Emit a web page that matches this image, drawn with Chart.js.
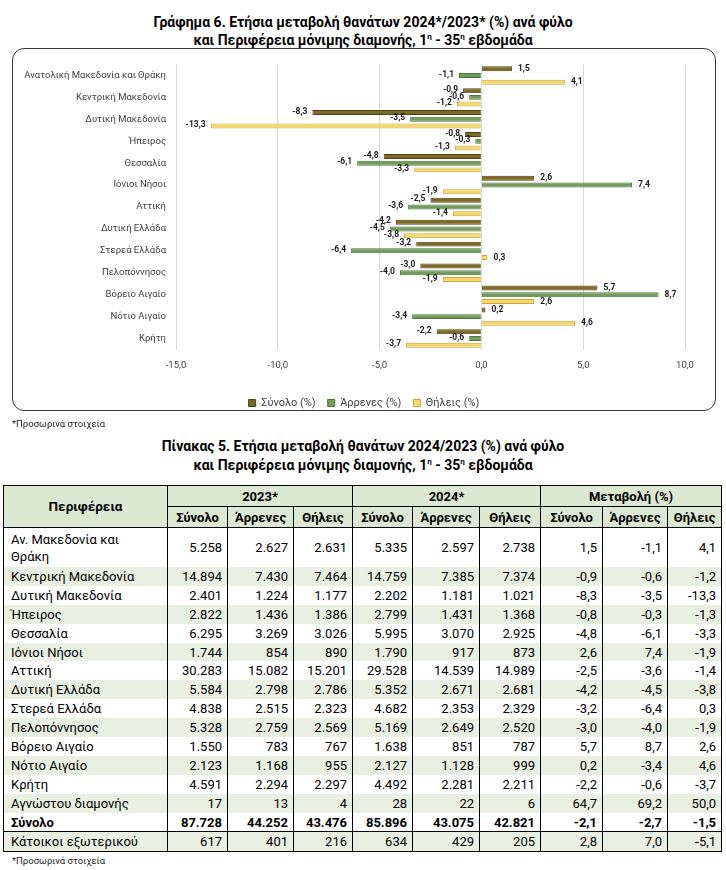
<!DOCTYPE html>
<html lang="el">
<head>
<meta charset="utf-8">
<title>Γράφημα 6 - Πίνακας 5</title>
<script src="https://cdn.jsdelivr.net/npm/chart.js@4.4.1/dist/chart.umd.min.js"></script>
<style>
    body { margin: 0; width: 726px; height: 870px; position: relative; background: #fff; font-family: Roboto, "Noto Sans", sans-serif; color: #000; overflow: hidden; }
    .title { position: absolute; left: 0; width: 726px; text-align: center; font-weight: bold; font-size: 14px; line-height: 18px; }
    .title sup { font-size: 8px; line-height: 0; }
    .chart-box { position: absolute; left: 12px; top: 48px; width: 702px; height: 361px; border: 1px solid #3a3a3a; border-radius: 12px; }
    #deathsChart { position: absolute; left: 12px; top: 48px; }
    .note { position: absolute; left: 12px; font-size: 9.5px; color: #222; }
    table { position: absolute; left: 3px; top: 485px; width: 718px; border-collapse: collapse; table-layout: fixed; font-size: 13px; border: 1.5px solid #000; }
    th, td { border-left: 1px solid #000; border-right: 1px solid #000; padding: 0 5px; line-height: 17px; }
    th { background: #dce8d2; font-weight: bold; text-align: center; border-top: 1px solid #000; border-bottom: 1px solid #000; height: 20px; }
    td { text-align: right; height: 18.9px; }
    td:first-child { text-align: left; padding-left: 7px; }
    tr.band td { background: #e9f0e1; }
    tr.total td { font-weight: bold; }
    tr.abroad td { border-top: 1.5px solid #000; height: 19px; }
</style>
</head>
<body>

<div class="title" style="top:13px">Γράφημα 6. Ετήσια μεταβολή θανάτων 2024*/2023* (%) ανά φύλο<br>και Περιφέρεια μόνιμης διαμονής, 1<sup>η</sup> - 35<sup>η</sup> εβδομάδα</div>
<div class="chart-box"></div>
<canvas id="deathsChart" width="704" height="380"></canvas>
<div class="note" style="top:418px">*Προσωρινά στοιχεία</div>

<div class="title" style="top:437px;line-height:19px">Πίνακας 5. Ετήσια μεταβολή θανάτων 2024/2023 (%) ανά φύλο<br>και Περιφέρεια μόνιμης διαμονής, 1<sup>η</sup> - 35<sup>η</sup> εβδομάδα</div>
<table id="deathsTable"></table>
<div class="note" style="top:855px">*Προσωρινά στοιχεία</div>

<script>
// Γράφημα 6
const regions = [
    'Ανατολική Μακεδονία και Θράκη', 'Κεντρική Μακεδονία', 'Δυτική Μακεδονία', 'Ήπειρος',
    'Θεσσαλία', 'Ιόνιοι Νήσοι', 'Αττική', 'Δυτική Ελλάδα', 'Στερεά Ελλάδα',
    'Πελοπόννησος', 'Βόρειο Αιγαίο', 'Νότιο Αιγαίο', 'Κρήτη',
];
const totalChange  = [1.5, -0.9, -8.3, -0.8, -4.8, 2.6, -2.5, -4.2, -3.2, -3.0, 5.7, 0.2, -2.2];
const maleChange   = [-1.1, -0.6, -3.5, -0.3, -6.1, 7.4, -3.6, -4.5, -6.4, -4.0, 8.7, -3.4, -0.6];
const femaleChange = [4.1, -1.2, -13.3, -1.3, -3.3, -1.9, -1.4, -3.8, 0.3, -1.9, 2.6, 4.6, -3.7];
const axisTicks = [-15, -10, -5, 0, 5, 10];

// Πίνακας 5
const tableRegions = [
    'Αν. Μακεδονία και Θράκη', 'Κεντρική Μακεδονία', 'Δυτική Μακεδονία', 'Ήπειρος', 'Θεσσαλία',
    'Ιόνιοι Νήσοι', 'Αττική', 'Δυτική Ελλάδα', 'Στερεά Ελλάδα', 'Πελοπόννησος', 'Βόρειο Αιγαίο',
    'Νότιο Αιγαίο', 'Κρήτη', 'Αγνώστου διαμονής', 'Σύνολο', 'Κάτοικοι εξωτερικού',
];
const total2023  = [5258, 14894, 2401, 2822, 6295, 1744, 30283, 5584, 4838, 5328, 1550, 2123, 4591, 17, 87728, 617];
const male2023   = [2627, 7430, 1224, 1436, 3269, 854, 15082, 2798, 2515, 2759, 783, 1168, 2294, 13, 44252, 401];
const female2023 = [2631, 7464, 1177, 1386, 3026, 890, 15201, 2786, 2323, 2569, 767, 955, 2297, 4, 43476, 216];
const total2024  = [5335, 14759, 2202, 2799, 5995, 1790, 29528, 5352, 4682, 5169, 1638, 2127, 4492, 28, 85896, 634];
const male2024   = [2597, 7385, 1181, 1431, 3070, 917, 14539, 2671, 2353, 2649, 851, 1128, 2281, 22, 43075, 429];
const female2024 = [2738, 7374, 1021, 1368, 2925, 873, 14989, 2681, 2329, 2520, 787, 999, 2211, 6, 42821, 205];
const totalPct   = [1.5, -0.9, -8.3, -0.8, -4.8, 2.6, -2.5, -4.2, -3.2, -3.0, 5.7, 0.2, -2.2, 64.7, -2.1, 2.8];
const malePct    = [-1.1, -0.6, -3.5, -0.3, -6.1, 7.4, -3.6, -4.5, -6.4, -4.0, 8.7, -3.4, -0.6, 69.2, -2.7, 7.0];
const femalePct  = [4.1, -1.2, -13.3, -1.3, -3.3, -1.9, -1.4, -3.8, 0.3, -1.9, 2.6, 4.6, -3.7, 50.0, -1.5, -5.1];

const FONT = 'Roboto, "Noto Sans", sans-serif';

function fmt1(v) {
    return v.toFixed(1).replace('.', ',');
}

function fmtInt(v) {
    return String(v).replace(/\B(?=(\d{3})+(?!\d))/g, '.');
}

// ετικέτες τιμών στο τέλος κάθε μπάρας
const barLabels = {
    id: 'barLabels',
    afterDatasetsDraw(chart) {
        const ctx = chart.ctx;
        ctx.save();
        ctx.font = `bold 8.5px ${FONT}`;
        ctx.fillStyle = '#1a1a1a';
        ctx.textBaseline = 'middle';
        chart.data.datasets.forEach((ds, i) => {
            chart.getDatasetMeta(i).data.forEach((bar, j) => {
                const v = ds.data[j];
                if (v >= 0) {
                    ctx.textAlign = 'left';
                    ctx.fillText(fmt1(v), bar.x + 6, bar.y);
                } else {
                    ctx.textAlign = 'right';
                    ctx.fillText(fmt1(v), bar.x - 5, bar.y - 1);
                }
            });
        });
        ctx.restore();
    },
};

// το υπόμνημα κεντράρεται σε όλο το πλάτος του πλαισίου
const legendCenter = {
    id: 'legendCenter',
    afterLayout(chart) {
        chart.legend.left = 0;
        chart.legend.right = chart.width;
        chart.legend.width = chart.width;
    },
};

function renderChart() {
    new Chart(document.getElementById('deathsChart'), {
        type: 'bar',
        data: {
            labels: regions,
            datasets: [
                { label: 'Σύνολο (%)', data: totalChange, backgroundColor: '#7d6a24', borderColor: '#4e4112', borderWidth: 1 },
                { label: 'Άρρενες (%)', data: maleChange, backgroundColor: '#729c5c', borderColor: '#4d7340', borderWidth: 1 },
                { label: 'Θήλεις (%)', data: femaleChange, backgroundColor: '#f4d86c', borderColor: '#c7a63c', borderWidth: 1 },
            ],
        },
        options: {
            indexAxis: 'y',
            responsive: false,
            animation: false,
            devicePixelRatio: 1,
            categoryPercentage: 0.92,
            barPercentage: 0.74,
            layout: { padding: { top: 16.5, right: 31, bottom: 9.5, left: 0 } },
            plugins: {
                tooltip: { enabled: false },
                legend: {
                    position: 'bottom',
                    labels: {
                        boxWidth: 7, boxHeight: 7, padding: 12,
                        color: '#404040',
                        font: { family: FONT, size: 11 },
                    },
                },
            },
            scales: {
                x: {
                    min: axisTicks[0],
                    max: axisTicks[axisTicks.length - 1],
                    afterBuildTicks: scale => { scale.ticks = axisTicks.map(v => ({ value: v })); },
                    afterFit: scale => { scale.height = 36; },
                    grid: { color: '#d9d9d9', drawTicks: false },
                    border: { display: false },
                    ticks: {
                        padding: 10,
                        color: '#404040',
                        font: { family: FONT, size: 9.5 },
                        callback: v => fmt1(v),
                    },
                },
                y: {
                    afterFit: scale => { scale.width = 164; },
                    grid: { display: false, drawTicks: false },
                    border: { display: false },
                    ticks: {
                        padding: 10,
                        color: '#404040',
                        font: { family: FONT, size: 9.5 },
                    },
                },
            },
        },
        plugins: [barLabels, legendCenter],
    });
}

function renderTable() {
    const widths = [164, 60, 66, 59, 60, 67, 61, 62, 65, 54];
    const subHeads = ['Σύνολο', 'Άρρενες', 'Θήλεις'];
    let html = '<colgroup>' + widths.map(w => `<col style="width:${w}px">`).join('') + '</colgroup>';
    html += `<tr><th rowspan="2" style="font-size:13.5px">Περιφέρεια</th>
        <th colspan="3">2023*</th><th colspan="3">2024*</th><th colspan="3">Μεταβολή (%)</th></tr>`;
    html += '<tr>' + subHeads.concat(subHeads, subHeads).map(h => `<th>${h}</th>`).join('') + '</tr>';
    tableRegions.forEach((name, i) => {
        let cls = i % 2 === 1 ? 'band' : '';
        if (name === 'Σύνολο') cls = 'total';
        if (i === tableRegions.length - 1) cls = 'abroad band';
        const cells = [
            fmtInt(total2023[i]), fmtInt(male2023[i]), fmtInt(female2023[i]),
            fmtInt(total2024[i]), fmtInt(male2024[i]), fmtInt(female2024[i]),
            fmt1(totalPct[i]), fmt1(malePct[i]), fmt1(femalePct[i]),
        ];
        const h = i === 0 ? ' style="height:39px"' : '';
        html += `<tr class="${cls}"><td${h}>${i === 0 ? 'Αν. Μακεδονία και<br>Θράκη' : name}</td>` +
            cells.map(c => `<td>${c}</td>`).join('') + '</tr>';
    });
    document.getElementById('deathsTable').innerHTML = html;
}

renderChart();
renderTable();
</script>
</body>
</html>
